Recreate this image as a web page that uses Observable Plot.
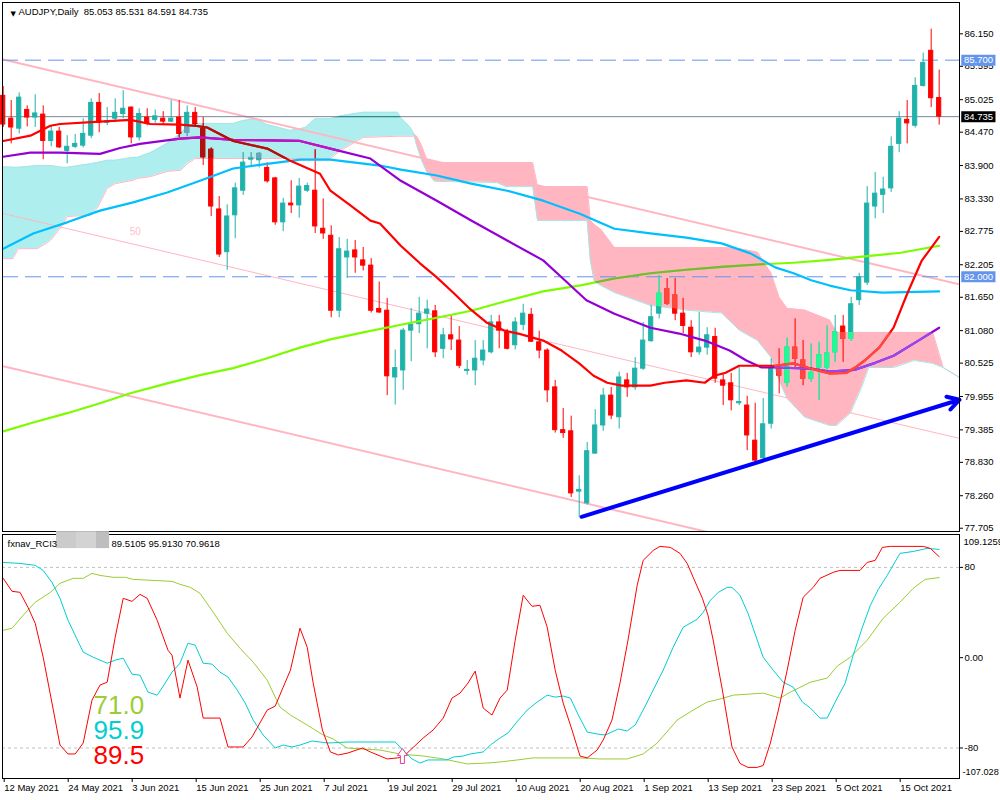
<!DOCTYPE html>
<html>
<head>
<meta charset="utf-8">
<script src="https://cdn.jsdelivr.net/npm/d3@7"></script>
<script src="https://cdn.jsdelivr.net/npm/@observablehq/plot@0.6"></script>
<style>
  body { margin: 0; background: #fff; }
  #wrap { position: relative; width: 1000px; height: 800px; overflow: hidden; background: #fff; }
  #main { position: absolute; left: 0; top: 0; }
  #rci { position: absolute; left: 0; top: 532px; }
</style>
</head>
<body>
<div id="wrap"><div id="main"></div><div id="rci"></div></div>
<script>
// ---------------- DATA ----------------
const symbolName = "AUDJPY,Daily";
const priceTicks = [86.150, 85.595, 85.025, 84.470, 83.900, 83.330, 82.775, 82.205, 81.650, 81.080, 80.525, 79.955, 79.385, 78.830, 78.260, 77.705];
const priceRange = [77.649, 86.685];
const barRange = [-0.0875, 119.54];
const dateTickBars = [0, 8, 16, 24, 32, 40, 48, 56, 64, 72, 80, 88, 96, 104, 112];
const dateLabels = ["12 May 2021", "24 May 2021", "3 Jun 2021", "15 Jun 2021", "25 Jun 2021", "7 Jul 2021", "19 Jul 2021", "29 Jul 2021", "10 Aug 2021", "20 Aug 2021", "1 Sep 2021", "13 Sep 2021", "23 Sep 2021", "5 Oct 2021", "15 Oct 2021"];

// daily candles, 12 May 2021 .. 22 Oct 2021 (one per trading day)
const openP = [85.09,84.70,84.53,84.85,84.72,84.77,84.32,84.48,84.15,84.22,
  84.24,84.41,84.97,84.63,84.70,84.78,84.89,84.38,84.72,84.68,
  84.70,84.65,84.72,84.46,84.80,84.53,84.17,83.15,82.42,83.05,
  83.47,84.00,83.99,83.86,83.68,82.93,83.25,83.22,83.47,83.47,
  82.82,82.70,81.42,82.33,82.45,82.28,82.19,81.45,81.42,80.28,
  80.40,81.08,81.19,81.37,81.41,80.77,81.00,80.91,80.39,80.40,
  80.57,80.71,81.22,81.05,80.83,81.18,81.35,80.88,80.74,80.11,
  79.38,79.36,78.33,78.13,78.98,79.46,79.97,79.60,80.23,80.11,
  80.43,80.90,81.37,81.79,81.68,81.37,81.13,80.71,80.79,80.97,
  80.23,80.18,79.84,79.80,79.20,78.90,79.49,80.45,80.19,80.79,
  80.57,80.26,80.45,80.45,80.71,81.15,80.94,81.60,81.90,83.20,
  83.40,83.51,84.27,84.68,84.58,85.26,85.86,85.053];
const highP = [85.25,85.01,85.14,84.92,85.11,84.92,84.58,84.55,84.41,84.43,
  84.70,85.04,85.13,84.89,85.04,85.18,84.90,84.87,84.87,84.85,
  84.82,85.01,85.01,84.92,84.89,84.72,84.20,83.37,83.23,83.60,
  84.12,84.12,84.12,83.95,83.70,83.34,83.64,83.68,83.60,84.17,
  83.33,82.87,82.67,82.64,82.62,82.50,82.31,81.91,81.63,80.75,
  81.12,81.46,81.65,81.60,81.51,81.12,81.34,81.15,80.57,80.91,
  80.91,81.34,81.34,81.10,81.30,81.53,81.46,81.07,80.77,80.23,
  79.75,79.62,78.60,79.17,79.73,80.09,80.11,80.37,80.35,80.62,
  81.22,81.51,82.02,81.97,81.97,81.63,81.25,81.39,81.13,81.12,
  80.35,80.35,80.45,79.96,79.84,79.92,80.60,80.77,80.95,81.28,
  80.91,80.85,80.88,81.16,81.34,81.34,81.65,82.06,83.54,83.78,
  83.70,84.39,84.82,85.01,85.40,85.82,86.23,85.531];
const lowP = [84.55,84.27,84.44,84.56,84.55,84.00,84.22,84.19,83.93,84.19,
  84.20,84.36,84.46,84.58,84.63,84.70,84.27,84.32,84.58,84.62,
  84.60,84.63,84.38,84.39,84.55,83.90,83.03,82.33,82.11,82.65,
  83.39,83.88,83.86,83.60,82.88,82.77,83.08,83.00,83.44,82.74,
  82.64,81.30,81.30,81.97,82.06,82.10,81.38,81.37,79.97,79.81,
  80.06,80.55,81.03,80.77,80.62,80.60,80.74,80.43,80.32,80.14,
  80.48,80.68,80.77,80.75,80.75,81.08,80.88,80.60,79.85,79.33,
  79.24,78.23,77.89,78.10,78.97,79.36,79.56,79.40,79.94,80.06,
  80.40,80.88,81.28,81.51,81.25,81.03,80.62,80.66,80.66,80.18,
  79.80,79.71,79.80,79.03,78.83,78.83,79.40,80.00,80.12,80.45,
  80.14,80.20,79.89,80.40,80.54,80.54,80.90,81.51,81.85,82.99,
  83.08,83.44,84.12,84.27,84.54,85.24,84.89,84.591];
const closeP = [84.60,84.55,85.06,84.72,84.79,84.32,84.48,84.21,84.22,84.27,
  84.44,84.97,84.63,84.66,84.80,84.87,84.38,84.78,84.62,84.74,
  84.65,84.70,84.44,84.80,84.61,84.04,83.20,82.38,83.03,83.51,
  83.95,84.03,84.10,83.63,82.93,83.25,83.22,83.54,83.55,82.86,
  82.74,81.42,82.47,82.43,82.33,82.19,81.42,81.39,80.30,80.44,
  81.08,81.18,81.37,81.44,80.71,81.00,80.93,80.48,80.41,80.60,
  80.74,81.22,81.08,80.77,81.22,81.37,80.89,80.74,80.06,79.38,
  79.33,78.30,78.36,79.02,79.46,79.97,79.63,80.28,80.11,80.43,
  80.91,81.31,81.71,81.54,81.37,81.16,80.71,80.79,81.00,80.26,
  80.14,79.89,79.86,79.29,78.86,79.48,80.45,80.31,80.79,80.60,
  80.26,80.36,80.66,80.69,81.05,80.94,81.53,81.99,83.25,83.42,
  83.49,84.22,84.70,84.62,85.26,85.65,85.05,84.735];

// moving averages [bar, price]
const maRed = [[0,84.32],[3.4,84.41],[5.9,84.58],[7.1,84.61],[12.1,84.65],[15.9,84.68],[18.4,84.61],[22.1,84.60],[24,84.58],[25.5,84.55],[28.75,84.32],[33,84.19],[35.9,83.98],[39.6,83.76],[40.9,83.47],[43.4,83.22],[45.9,82.96],[47.1,82.91],[49.7,82.53],[52.1,82.23],[54.2,81.99],[56.4,81.71],[58.2,81.47],[60.4,81.22],[62.7,81.08],[64.4,81.03],[67.5,80.91],[69.8,80.74],[72,80.52],[73.8,80.31],[75.5,80.19],[77.3,80.14],[80.9,80.14],[82.7,80.19],[85.4,80.23],[87.7,80.19],[88.9,80.31],[90.3,80.36],[92,80.48],[96.5,80.48],[98.8,80.52],[101,80.43],[103.3,80.35],[105.4,80.36],[106.5,80.45],[107.7,80.57],[109.5,80.79],[111.3,81.13],[113,81.71],[114.8,82.27],[117,82.68]];
const maPurple = [[0,84.05],[3.4,84.12],[7.1,84.12],[12.1,84.10],[14.6,84.20],[17.1,84.27],[22.1,84.36],[24.6,84.38],[28.75,84.34],[37.1,84.32],[40.9,84.19],[45.9,84.02],[49.7,83.64],[54.2,83.30],[58.5,82.96],[63,82.62],[67.5,82.28],[70.2,81.94],[72.9,81.60],[76.4,81.37],[80.9,81.13],[84.5,81.03],[87.7,80.91],[90.8,80.74],[92.9,80.57],[94.8,80.45],[96.5,80.45],[101,80.43],[103.3,80.38],[106.4,80.41],[109,80.53],[111.3,80.65],[114.4,80.91],[117,81.13]];
const maBlue = [[0,82.48],[3.75,82.74],[8,82.93],[12.1,83.13],[16.25,83.27],[20.5,83.44],[24.6,83.64],[28.75,83.85],[33,83.93],[37.1,84.00],[40.9,84.00],[47.1,83.90],[49.7,83.83],[54.2,83.73],[58.5,83.59],[63,83.47],[67.5,83.30],[72,83.08],[76.4,82.82],[80.9,82.74],[85.4,82.67],[89.8,82.57],[93.4,82.40],[96.5,82.16],[98.8,82.06],[101,81.94],[103.3,81.85],[105.9,81.77],[109.9,81.73],[117,81.75]];
const maGreen = [[0,79.36],[3.75,79.51],[8,79.67],[12.1,79.84],[15.9,80.01],[20.5,80.18],[24.6,80.32],[28.75,80.44],[32.1,80.57],[37.1,80.79],[40.9,80.93],[45,81.05],[49.7,81.18],[54.2,81.30],[58.5,81.42],[63,81.59],[67.5,81.75],[72,81.85],[76.4,81.97],[80.9,82.06],[85.4,82.12],[89.8,82.17],[94.3,82.21],[98.8,82.24],[103.3,82.29],[107.7,82.35],[112.2,82.41],[117,82.53]];

// Ichimoku cloud (span A / span B) at bar positions
const cloudK = [0,1.2,1.9,4.3,5.9,7.4,8,10.9,11.8,13,14,16.3,16.8,18.4,20.5,22.2,23,24,28.8,30,31.5,33,35.9,37.8,39,40.9,42.2,45,49.3,49.7,50.9,51.3,51.7,52.3,53,53.9,61.7,62.8,66.2,66.8,73.0,73.4,73.9,74.7,76.4,80.9,85.4,89.8,92,94.3,96,97,98,100.2,103.3,104.2,105.9,107.3,108.2,111.3,113.9,116.2,117.5,119.54];
const spanA = [83.88,83.87,83.87,83.90,83.90,83.87,83.87,83.93,83.95,83.99,83.99,84.04,84.04,84.12,84.28,84.45,84.57,84.62,84.62,84.67,84.70,84.60,84.50,84.55,84.70,84.70,84.75,84.81,84.81,84.72,84.55,84.45,84.24,83.99,83.78,83.63,83.61,83.54,83.54,82.96,82.96,82.28,81.92,81.85,81.73,81.51,81.43,81.38,81.09,80.91,80.62,80.23,79.92,79.60,79.46,79.46,79.67,80.11,80.45,80.45,80.57,80.52,80.45,80.28];
const spanB = [82.31,82.31,82.48,82.48,82.62,82.88,83.03,83.05,83.18,83.51,83.59,83.65,83.68,83.71,83.80,83.82,83.93,84.02,84.02,84.02,84.02,84.02,84.02,84.02,84.02,84.02,84.16,84.38,84.40,84.40,84.40,84.40,84.40,84.24,83.99,83.95,83.95,83.95,83.95,83.54,83.54,82.96,82.89,82.81,82.50,82.50,82.50,82.50,82.48,82.42,82.06,81.65,81.46,81.43,81.26,81.05,81.05,81.05,81.05,81.05,81.05,81.05,80.45,80.28];

// price channel (top / 50 / bottom)
const channelK = [0, 119.5];
const channelTop = [85.71, 81.87];
const channelMid = [83.08, 79.24];
const channelBot = [80.47, 76.63];
const channelLabel = [{k: 16.5, p: 82.77, t: "50"}];

const dashedLevels = [85.700, 82.000];
const trendArrow = [{k1: 72.3, p1: 77.90, k2: 119.54, p2: 79.90}];

// RCI sub-window [bar, value]
const rciRange = [-107.028, 109.1259];
const rciLevels = [80, -80];
const rciLast = {red: 89.5105, cyan: 95.9130, green: 70.9618};
const rciRed = [[0,70.3],[1.1,58.8],[2.1,57.9],[3.1,44.6],[4,30.5],[5,0.4],[6.1,-40.2],[7.1,-77.4],[8.1,-85.3],[9,-85.3],[10,-75.6],[11.1,-37.6],[12.1,-24.3],[13,-21.7],[14,18.1],[15,52.6],[16.1,49.9],[17.1,56.1],[18,52.6],[19.25,33.1],[20.6,6.6],[21.1,2.2],[22.1,-35.8],[23.1,-2.2],[24.25,-26.1],[25,-53.5],[27.1,-53.5],[28.1,-79.1],[30,-79.1],[31.1,-70.3],[33,-46.4],[34,-42.9],[35,-26.1],[35.9,-11.1],[37.1,26.1],[38,9.3],[38.75,-22.5],[39.9,-64.0],[40.9,-83.5],[41.9,-86.2],[43.1,-84.4],[44.9,-80.0],[45.9,-83.5],[48,-89.7],[49.25,-88.8],[50,-88.0],[50.9,-81.8],[52.5,-71.2],[53.75,-64.0],[55,-53.5],[56.1,-35.8],[57.1,-31.4],[58.1,-22.5],[59,-11.9],[60,-44.6],[61.1,-50.8],[62.1,-35.8],[63,-28.7],[64,15.5],[65,55.3],[66.1,45.5],[67.1,46.4],[68,27.0],[69,-11.1],[70,-40.2],[71.1,-64.0],[72.1,-87.1],[73,-88.8],[74.25,-81.8],[75,-72.9],[76.1,-55.3],[77.1,-22.5],[78.1,15.5],[79.25,64.1],[80,86.2],[81.25,95.0],[82.1,98.6],[83.4,97.7],[84.6,92.4],[85.5,83.5],[86.25,71.2],[87.4,52.6],[88.1,37.6],[88.75,15.5],[89.9,-28.7],[91.1,-79.1],[92.1,-93.7],[93.1,-97.2],[94.25,-97.2],[95,-95.5],[95.9,-75.6],[96.9,-46.4],[98,-11.1],[99,24.3],[100,53.5],[101.25,62.3],[102.1,70.3],[103.75,75.6],[104.6,77.3],[107.1,77.3],[108,84.4],[109,86.2],[109.9,97.7],[110.9,98.6],[115,98.6],[115.9,96.8],[117,89.5105]];
const rciCyan = [[0,84.4],[2.1,83.5],[4,81.8],[5,77.3],[6.1,66.7],[7.1,52.6],[8.1,33.2],[10,4.9],[11.25,0.4],[13,-4.9],[14,-2.2],[15,-0.4],[16.1,-14.6],[17.1,-15.5],[18.1,-30.5],[19.25,-33.2],[20.25,-22.5],[21.1,-12.8],[22.1,-4.9],[23.1,12.8],[24,11.1],[25,-4.9],[26.1,-5.7],[27.1,-12.8],[28.1,-17.2],[29.25,-28.7],[30.25,-40.2],[31.25,-55.3],[32.5,-68.5],[34,-80.0],[35,-77.4],[36.1,-79.1],[37.1,-77.4],[38.6,-73.8],[39.6,-74.7],[40.6,-75.6],[43,-74.7],[49,-74.7],[50,-81.8],[51.1,-89.7],[52.1,-93.3],[53.1,-90.6],[55.5,-90.6],[56.25,-88.0],[57.5,-87.1],[58.4,-85.3],[60,-83.5],[60.9,-77.4],[62.1,-71.2],[63.1,-66.7],[64.4,-55.3],[65.5,-46.4],[66.75,-39.3],[68,-33.2],[69,-34.9],[70,-34.0],[70.9,-35.8],[71.9,-50.8],[73,-65.9],[74.25,-67.6],[75.25,-68.5],[76.9,-63.2],[78,-64.9],[79,-59.6],[80,-46.4],[81.25,-28.7],[82.5,-11.1],[83.75,9.3],[85,27.0],[86.75,34.0],[87.5,40.2],[88.4,50.8],[89.4,57.9],[90.5,62.3],[91.1,62.3],[92.1,55.3],[93.1,39.3],[95,0.4],[96.25,-11.1],[97.5,-21.7],[98.75,-26.1],[99.9,-39.3],[100.9,-44.6],[102.1,-53.5],[103,-53.5],[104,-39.3],[105.25,-22.5],[106.25,2.2],[107.4,27.0],[108.4,46.4],[109.4,60.6],[110.5,72.9],[112.1,92.4],[113.75,94.1],[115.5,96.8],[117,95.9130]];
const rciGreen = [[0,24.3],[1.1,26.1],[2.5,37.6],[4,49.1],[5.9,57.9],[7.1,65.9],[8.75,70.3],[10,70.3],[11.1,74.7],[12.1,72.9],[13.75,71.2],[15.25,71.2],[16.25,69.4],[21.1,67.6],[22.1,65.0],[23.4,62.3],[24.6,57.0],[26.25,40.2],[28,21.7],[29.6,8.4],[31.25,-4.0],[33,-19.9],[34.6,-43.8],[35.9,-50.8],[38,-59.7],[40,-68.5],[41.25,-72.0],[43,-80.0],[45,-80.9],[47.1,-81.8],[49.6,-85.3],[52.5,-87.1],[55,-89.7],[58,-94.1],[60.5,-93.3],[62.1,-92.4],[64.25,-90.6],[66.25,-88.8],[72.1,-88.8],[74.6,-89.7],[78,-89.7],[80,-85.3],[81.75,-75.6],[84.25,-55.3],[86.25,-46.4],[88,-39.3],[89.6,-36.6],[91.25,-33.2],[95,-31.4],[97.1,-35.8],[98.4,-30.5],[100.9,-21.7],[103,-18.1],[104.25,-7.5],[105.9,0.4],[108,15.5],[110,34.9],[112.1,49.1],[113.75,61.4],[115.25,69.4],[117,70.9618]];
const rciSignal = [[49.9, -86.66]];

// ---------------- RENDER ----------------
const FONT = "'Liberation Sans', Arial, sans-serif";
const C = {
  bull: "#20B2AA", bear: "#FF0000",
  bullPink: "#20FB94", bearPink: "#FF493E", bullTurq: "#70A3BB", bearTurq: "#AF1111",
  turq: "#AFEEEE", pink: "#FFB6C1"
};
const bars = openP.map((o, i) => ({k: i, o, h: highP[i], l: lowP[i], c: closeP[i]}));
const cloud = cloudK.map((k, i) => ({k, a: spanA[i], b: spanB[i]}));
const channel = channelK.map((k, i) => ({k, top: channelTop[i], mid: channelMid[i], bot: channelBot[i]}));
const up = d => d.c >= d.o;
const lastBar = bars[bars.length - 1];

function candles(bull, bear, desc) {
  return [
    Plot.ruleX(bars, {x: "k", y1: "l", y2: "h", stroke: d => up(d) ? bull : bear, strokeWidth: 1, ariaDescription: desc}),
    Plot.rect(bars, {x1: d => d.k - 0.26, x2: d => d.k + 0.26, y1: d => Math.min(d.o, d.c), y2: d => Math.max(d.o, d.c),
      fill: d => up(d) ? bull : bear, stroke: d => up(d) ? bull : bear, strokeWidth: 1, ariaDescription: desc})
  ];
}
const maLine = (arr, stroke, desc) => Plot.line(arr, {x: d => d[0], y: d => d[1], stroke, strokeWidth: 2.2, ariaDescription: desc});

const levelBoxes = [
  {p: dashedLevels[0], bg: "#6495ED"},
  {p: dashedLevels[1], bg: "#6495ED"},
  {p: lastBar.c, bg: "#000000"}
];
const headerText = `${symbolName}\u00a0 ${[lastBar.o, lastBar.h, lastBar.l, lastBar.c].map(v => v.toFixed(3)).join(" ")}`;

const mainPlot = Plot.plot({
  width: 1000, height: 532,
  marginTop: 2, marginBottom: 1, marginLeft: 2, marginRight: 41,
  x: {domain: barRange, axis: null},
  y: {domain: priceRange, axis: null},
  color: {type: "identity"},
  style: {fontFamily: FONT, fontSize: "9.5px", background: "white", overflow: "visible"},
  marks: [
    Plot.areaY(cloud, {x: "k", y1: "b", y2: d => Math.max(d.a, d.b), fill: C.turq, ariaDescription: "cloud-turq"}),
    Plot.areaY(cloud, {x: "k", y1: "a", y2: d => Math.max(d.a, d.b), fill: C.pink, ariaDescription: "cloud-pink"}),
    Plot.line(cloud, {x: "k", y: "b", stroke: C.pink, strokeWidth: 1}),
    Plot.line(cloud, {x: "k", y: "a", stroke: "#A6E6E6", strokeWidth: 1}),
    Plot.line(channel, {x: "k", y: "top", stroke: C.pink, strokeWidth: 2, clip: true}),
    Plot.line(channel, {x: "k", y: "mid", stroke: C.pink, strokeWidth: 1, clip: true}),
    Plot.line(channel, {x: "k", y: "bot", stroke: C.pink, strokeWidth: 2, clip: true}),
    Plot.text(channelLabel, {x: "k", y: "p", text: "t", fill: "#FFC0CB", fontSize: 10}),
    Plot.ruleY(dashedLevels, {stroke: "#6495ED", strokeWidth: 1, strokeDasharray: "16,7"}),
    Plot.ruleY([lastBar.c], {stroke: "#778899", strokeWidth: 1}),
    Plot.ruleY([lastBar.c], {stroke: "#278988", strokeWidth: 1, ariaDescription: "ov-turq"}),
    ...candles(C.bull, C.bear),
    ...candles(C.bullPink, C.bearPink, "ov-pink"),
    ...candles(C.bullTurq, C.bearTurq, "ov-turq"),
    maLine(maGreen, "#7CFC00"),
    maLine(maGreen, "#7CB53E", "ov-pink"),
    maLine(maBlue, "#00BFFF"),
    maLine(maPurple, "#9400D3"),
    maLine(maPurple, "#9449ED", "ov-pink"),
    maLine(maPurple, "#C411C2", "ov-turq"),
    maLine(maRed, "#FF0000"),
    maLine(maRed, "#FF493E", "ov-pink"),
    maLine(maRed, "#AF1111", "ov-turq"),
    Plot.arrow(trendArrow, {x1: "k1", y1: "p1", x2: "k2", y2: "p2", stroke: "#0000FF", strokeWidth: 4, headLength: 5, headAngle: 60}),
    Plot.axisY(priceTicks, {anchor: "right", tickSize: 3, tickPadding: 2, textAnchor: "start", tickFormat: d => d.toFixed(3), fontSize: 9.5, fill: "black", stroke: "black"}),
    Plot.ruleY(levelBoxes, {y: "p", x1: 119.82, x2: 124.1, stroke: "bg", strokeWidth: 11}),
    Plot.text(levelBoxes, {y: "p", x: 120.1, text: d => d.p.toFixed(3), fill: "white", textAnchor: "start", fontSize: 9.5}),
    Plot.text(["\u25BC"], {frameAnchor: "top-left", dx: 8, dy: 9, fontSize: 7, fontFamily: "DejaVu Sans", fill: "black"}),
    Plot.text([headerText], {frameAnchor: "top-left", dx: 16, dy: 9, textAnchor: "start", lineAnchor: "middle", fontSize: 9.5, fill: "black"}),
    Plot.frame({stroke: "black", strokeWidth: 1})
  ]
});

function applyCloudClips(svg) {
  const ns = "http://www.w3.org/2000/svg";
  const defs = document.createElementNS(ns, "defs");
  svg.insertBefore(defs, svg.firstChild);
  [["cloud-pink", "clipPinkCloud", "ov-pink"], ["cloud-turq", "clipTurqCloud", "ov-turq"]].forEach(([src, id, target]) => {
    const cp = document.createElementNS(ns, "clipPath");
    cp.setAttribute("id", id);
    const g = svg.querySelector(`g[aria-description="${src}"]`);
    if (g) g.querySelectorAll("path").forEach(p => {
      const q = document.createElementNS(ns, "path");
      q.setAttribute("d", p.getAttribute("d"));
      cp.appendChild(q);
    });
    defs.appendChild(cp);
    svg.querySelectorAll(`g[aria-description="${target}"]`).forEach(o => o.setAttribute("clip-path", `url(#${id})`));
  });
}
applyCloudClips(mainPlot);
document.getElementById("main").appendChild(mainPlot);

// ---------- RCI panel ----------
const upArrow = {
  draw(ctx, size) {
    const s = Math.sqrt(size) / 8;
    ctx.moveTo(0, -7 * s); ctx.lineTo(5 * s, 0); ctx.lineTo(2 * s, 0); ctx.lineTo(2 * s, 8 * s);
    ctx.lineTo(-2 * s, 8 * s); ctx.lineTo(-2 * s, 0); ctx.lineTo(-5 * s, 0); ctx.closePath();
  }
};
const redactBox = [{x1: 6.66, x2: 9.16, c: "#CBCBCB"}, {x1: 9.16, x2: 11.66, c: "#D3D3D3"}, {x1: 11.66, x2: 13.3, c: "#BEBEBE"}];
const rciLine = (arr, stroke) => Plot.line(arr, {x: d => d[0], y: d => d[1], stroke, strokeWidth: 1});

const rciPlot = Plot.plot({
  width: 1000, height: 268,
  marginTop: 2, marginBottom: 22, marginLeft: 2, marginRight: 41,
  x: {domain: barRange, axis: null},
  y: {domain: rciRange, axis: null},
  color: {type: "identity"},
  style: {fontFamily: FONT, fontSize: "9.5px", background: "white", overflow: "visible"},
  marks: [
    Plot.ruleY(rciLevels, {stroke: "#C0C0C0", strokeWidth: 1, strokeDasharray: "3,3"}),
    rciLine(rciGreen, "#9ACD32"),
    rciLine(rciCyan, "#00CED1"),
    rciLine(rciRed, "#FF0000"),
    Plot.dot(rciSignal, {x: d => d[0], y: d => d[1], symbol: upArrow, r: 4.5, stroke: "#E0409A", fill: "white", strokeWidth: 1}),
    Plot.text([rciLast.green.toFixed(1)], {frameAnchor: "top-left", dx: 91, dy: 171, textAnchor: "start", lineAnchor: "middle", fontSize: 26, fill: "#9ACD32"}),
    Plot.text([rciLast.cyan.toFixed(1)], {frameAnchor: "top-left", dx: 91, dy: 196, textAnchor: "start", lineAnchor: "middle", fontSize: 26, fill: "#00CED1"}),
    Plot.text([rciLast.red.toFixed(1)], {frameAnchor: "top-left", dx: 91, dy: 221, textAnchor: "start", lineAnchor: "middle", fontSize: 26, fill: "#FF0000"}),
    Plot.axisY([80, 0, -80], {anchor: "right", tickSize: 3, tickPadding: 2, textAnchor: "start", tickFormat: d => d === 0 ? "0.00" : String(d), fontSize: 9.5, fill: "black", stroke: "black"}),
    Plot.text([String(rciRange[1])], {frameAnchor: "top-right", dx: 4, dy: 7, textAnchor: "start", lineAnchor: "middle", fontSize: 9.5, fill: "black"}),
    Plot.text([String(rciRange[0])], {frameAnchor: "bottom-right", dx: 3, dy: -6, textAnchor: "start", lineAnchor: "middle", fontSize: 9.2, fill: "black"}),
    Plot.axisX(dateTickBars, {anchor: "bottom", tickSize: 4, tickPadding: 2, textAnchor: "start", dx: 1, tickFormat: d => dateLabels[dateTickBars.indexOf(d)], fontSize: 9.5, fill: "black", stroke: "black"}),
    Plot.frame({stroke: "black", strokeWidth: 1}),
    Plot.ruleY(redactBox, {y: 104.6, x1: "x1", x2: "x2", stroke: "c", strokeWidth: 17}),
    Plot.text(["fxnav_RCI3"], {frameAnchor: "top-left", dx: 5, dy: 9, textAnchor: "start", lineAnchor: "middle", fontSize: 9.5, fill: "black"}),
    Plot.text([[rciLast.red, rciLast.cyan, rciLast.green].map(v => v.toFixed(4)).join(" ")], {frameAnchor: "top-left", dx: 109, dy: 9, textAnchor: "start", lineAnchor: "middle", fontSize: 9.5, fill: "black"})
  ]
});
document.getElementById("rci").appendChild(rciPlot);
</script>
</body>
</html>
